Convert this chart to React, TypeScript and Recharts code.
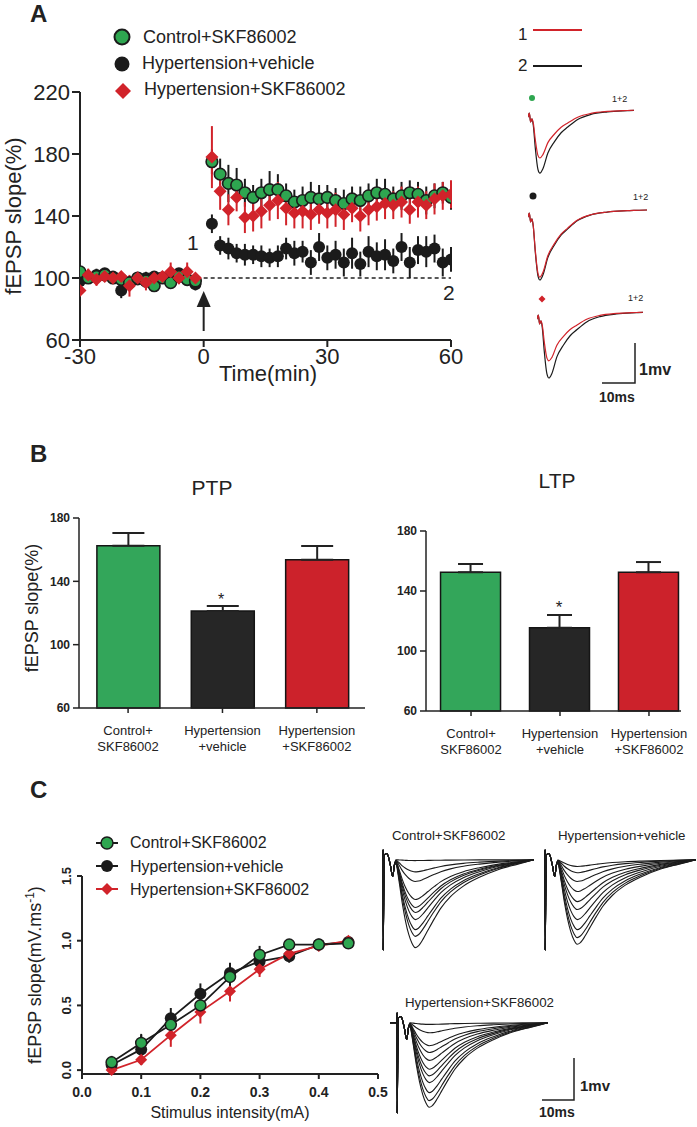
import React from 'react';
import {
  ScatterChart, Scatter, BarChart, Bar, Cell, LineChart, Line,
  XAxis, YAxis, ErrorBar, ReferenceLine, ReferenceDot,
} from 'recharts';

const FONT = '"Liberation Sans", Arial, Helvetica, sans-serif';
const INK = '#222222';
const DARK = '#1b1b1b';
const GREEN = '#2ea650';
const RED = '#d1232a';
const BAR_COLORS = ['#33a65a', '#262626', '#cc222b'];

// ---- A: fEPSP slope time course (% of baseline), time in min ----
const TIME_MIN = [
  -30, -28, -26, -24, -22, -20, -18, -16, -14, -12, -10, -8, -6, -4, -2,
  2, 4, 6, 8, 10, 12, 14, 16, 18, 20, 22, 24, 26, 28, 30,
  32, 34, 36, 38, 40, 42, 44, 46, 48, 50, 52, 54, 56, 58, 60,
];
const CTRL_SKF_SLOPE = [
  104, 100, 101, 102, 100, 99, 97, 100, 98, 95, 100, 97, 101, 99, 98,
  175, 167, 161, 160, 155, 152, 155, 157, 157, 153, 149, 150, 152, 151, 152,
  150, 148, 151, 150, 153, 155, 154, 151, 153, 155, 154, 150, 153, 155, 152,
];
const CTRL_SKF_SEM = [
  4, 3, 3, 4, 3, 3, 4, 3, 3, 4, 3, 3, 3, 4, 3,
  8, 10, 12, 11, 9, 8, 9, 12, 10, 8, 8, 9, 10, 9, 8,
  8, 9, 8, 9, 8, 9, 10, 8, 9, 8, 8, 9, 8, 7, 8,
];
const HYP_VEH_SLOPE = [
  98, 100, 102, 103, 101, 92, 97, 99, 100, 101, 100, 98, 103, 99, 96,
  135, 121, 119, 116, 115, 115, 114, 113, 114, 119, 116, 117, 110, 120, 113,
  115, 110, 116, 109, 117, 114, 115, 111, 120, 110, 118, 117, 119, 110, 112,
];
const HYP_VEH_SEM = [
  4, 3, 4, 3, 3, 5, 4, 3, 4, 3, 3, 4, 3, 3, 4,
  6, 6, 7, 6, 7, 6, 7, 6, 7, 7, 8, 7, 8, 9, 8,
  9, 9, 10, 8, 10, 9, 10, 8, 9, 10, 9, 10, 9, 9, 8,
];
const HYP_SKF_SLOPE = [
  92, 102, 99, 101, 100, 101, 95, 100, 97, 100, 101, 104, 100, 104, 100,
  178, 156, 144, 152, 139, 140, 143, 147, 150, 145, 142, 143, 141, 144, 142,
  144, 141, 145, 140, 144, 146, 148, 147, 149, 144, 149, 147, 151, 153, 154,
];
const HYP_SKF_SEM = [
  3, 4, 4, 3, 4, 3, 7, 4, 5, 4, 3, 6, 4, 6, 3,
  20, 12, 10, 9, 10, 10, 11, 10, 12, 11, 10, 11, 10, 9, 10,
  11, 10, 9, 10, 10, 9, 10, 9, 10, 9, 10, 9, 10, 9, 9,
];

// ---- A: sample traces (ms, mV) ----
const A_TRACE_T = [0, 0.4, 0.8, 1.2, 1.6, 2.2, 3.0, 3.6, 4.5, 6, 8, 10, 12, 15, 19, 24, 30, 32, 36];
const A_TRACE_SHAPE = [0, 0, 0, 0, -0.15, -0.55, -0.92, -1, -0.93, -0.68, -0.5, -0.36, -0.27, -0.15, -0.07, -0.03, -0.01, -0.005, 0];
const A_TRACE_VOLLEY = [-0.18, -0.08, -0.3, -0.22, -0.15, -0.08, -0.03, 0, 0, 0, 0, 0, 0, 0, 0, 0, 0, 0, 0];
const A_AMP_BEFORE = [1.58, 1.75, 1.65]; // trace 2 (black)
const A_AMP_AFTER = [1.2, 1.68, 1.22]; // trace 1 (red)

// ---- B: PTP / LTP bars ----
const GROUP_LABELS = [['Control+', 'SKF86002'], ['Hypertension', '+vehicle'], ['Hypertension', '+SKF86002']];
const PTP_MEAN = [162.5, 121.3, 153.7];
const PTP_SEM = [8, 3.2, 8.6];
const LTP_MEAN = [152.5, 115.5, 152.5];
const LTP_SEM = [5.5, 8.5, 6.8];

// ---- C: input-output curves ----
const STIM_MA = [0.05, 0.1, 0.15, 0.2, 0.25, 0.3, 0.35, 0.4, 0.45];
const CTRL_SKF_IO = [0.06, 0.21, 0.35, 0.5, 0.72, 0.89, 0.97, 0.97, 0.98];
const CTRL_SKF_IO_SEM = [0.05, 0.06, 0.07, 0.07, 0.08, 0.07, 0.04, 0.03, 0.03];
const HYP_VEH_IO = [0.04, 0.16, 0.4, 0.59, 0.75, 0.84, 0.88, 0.97, 0.99];
const HYP_VEH_IO_SEM = [0.05, 0.12, 0.08, 0.08, 0.08, 0.08, 0.05, 0.03, 0.03];
const HYP_SKF_IO = [0.0, 0.08, 0.27, 0.45, 0.61, 0.78, 0.9, 0.96, 1.0];
const HYP_SKF_IO_SEM = [0.03, 0.04, 0.09, 0.09, 0.08, 0.06, 0.04, 0.04, 0.03];

// ---- C: sample trace families ----
const C_TRACE_T = [-2.2, -0.3, 0, 0.03, 0.06, 0.3, 1.2, 2.2, 3, 3.6, 4, 5, 6, 7, 8, 9, 10, 11, 12.5, 14, 16, 18, 21, 25, 30, 36, 42, 47];
const C_TRACE_SHAPE = [0, 0, 0, 0, 0, 0, 0, 0, 0, 0, -0.05, -0.25, -0.5, -0.7, -0.85, -0.95, -1, -0.98, -0.9, -0.8, -0.67, -0.55, -0.42, -0.3, -0.2, -0.11, -0.05, 0];
const C_TRACE_FIXED = [0, 0, 0, 0.24, -2.15, 0.1, 0.15, -0.1, -0.4, -0.1, 0, 0, 0, 0, 0, 0, 0, 0, 0, 0, 0, 0, 0, 0, 0, 0, 0, 0];
const CTRL_AMPS = [0.02, 0.29, 0.52, 0.95, 1.14, 1.26, 1.43, 1.67, 1.83, 2.1];
const VEH_AMPS = [0.16, 0.31, 0.52, 0.76, 1.0, 1.19, 1.43, 1.67, 1.86, 2.02];
const SKF_AMPS = [0.04, 0.24, 0.55, 0.71, 0.9, 1.11, 1.27, 1.43, 1.67, 1.86, 2.02];

const seriesRows = (vals: number[], sems: number[]) =>
  TIME_MIN.map((t, i) => ({ t, v: vals[i], e: sems[i] }));

const diamond = (cx: number, cy: number, h: number) =>
  `${cx},${cy - h} ${cx + h},${cy} ${cx},${cy + h} ${cx - h},${cy}`;

const greenDot = (p: any) => <circle cx={p.cx} cy={p.cy} r={5.8} fill={GREEN} stroke={DARK} strokeWidth={1.6} />;
const blackDot = (p: any) => <circle cx={p.cx} cy={p.cy} r={6} fill={DARK} />;
const redDiamond = (p: any) => <polygon points={diamond(p.cx, p.cy, 6.5)} fill={RED} />;
const arrowHead = (p: any) => <polygon points={`${p.cx},${p.cy - 8} ${p.cx + 7},${p.cy + 8} ${p.cx - 7},${p.cy + 8}`} fill={INK} />;

function TimeCourse() {
  const axis = { stroke: INK, strokeWidth: 2 };
  const tick = { fill: INK, fontSize: 22, fontFamily: FONT };
  return (
    <div style={{ position: 'absolute', left: 0, top: 0 }}>
      <ScatterChart width={470} height={400} margin={{ top: 92, right: 19, bottom: 0, left: 0 }}>
        <XAxis type="number" dataKey="t" domain={[-30, 60]} ticks={[-30, 0, 30, 60]} height={60}
          axisLine={axis} tickLine={axis} tickSize={7} tickMargin={1} tick={tick} allowDataOverflow />
        <YAxis type="number" dataKey="v" domain={[60, 220]} ticks={[60, 100, 140, 180, 220]} width={80}
          axisLine={axis} tickLine={axis} tickSize={8} tickMargin={2} tick={tick} allowDataOverflow />
        <ReferenceLine segment={[{ x: 0, y: 100 }, { x: 60, y: 100 }]} stroke={INK} strokeWidth={1.5} strokeDasharray="4 3" />
        <ReferenceLine segment={[{ x: 0, y: 65.8 }, { x: 0, y: 82 }]} stroke={INK} strokeWidth={2} />
        <ReferenceDot x={0} y={86.5} r={0} shape={arrowHead} />
        <Scatter data={seriesRows(HYP_VEH_SLOPE, HYP_VEH_SEM)} dataKey="v" shape={blackDot} isAnimationActive={false}>
          <ErrorBar dataKey="e" direction="y" width={0} stroke={DARK} strokeWidth={2} />
        </Scatter>
        <Scatter data={seriesRows(CTRL_SKF_SLOPE, CTRL_SKF_SEM)} dataKey="v" shape={greenDot} isAnimationActive={false}>
          <ErrorBar dataKey="e" direction="y" width={0} stroke={DARK} strokeWidth={2} />
        </Scatter>
        <Scatter data={seriesRows(HYP_SKF_SLOPE, HYP_SKF_SEM)} dataKey="v" shape={redDiamond} isAnimationActive={false}>
          <ErrorBar dataKey="e" direction="y" width={0} stroke={RED} strokeWidth={2} />
        </Scatter>
      </ScatterChart>
    </div>
  );
}

function Traces(props: {
  left: number; top: number; width: number; height: number; rows: any[];
  keys: string[]; colors: string[]; xDomain: [number, number]; yDomain: [number, number]; sw?: number;
}) {
  const { left, top, width, height, rows, keys, colors, xDomain, yDomain, sw } = props;
  return (
    <div style={{ position: 'absolute', left, top }}>
      <LineChart width={width} height={height} data={rows} margin={{ top: 0, right: 0, bottom: 0, left: 0 }}>
        <XAxis type="number" dataKey="t" domain={xDomain} hide allowDataOverflow />
        <YAxis type="number" domain={yDomain} hide allowDataOverflow />
        {keys.map((k, i) => (
          <Line key={k} dataKey={k} stroke={colors[i]} strokeWidth={sw ?? 1.2} dot={false} type="monotone" isAnimationActive={false} />
        ))}
      </LineChart>
    </div>
  );
}

const aTraceRows = (k: number, tMax: number) =>
  A_TRACE_T.map((t, i) => ({
    t,
    before: A_AMP_BEFORE[k] * A_TRACE_SHAPE[i] + A_TRACE_VOLLEY[i],
    after: A_AMP_AFTER[k] * A_TRACE_SHAPE[i] + A_TRACE_VOLLEY[i],
  })).filter((r) => r.t <= tMax);

const cTraceRows = (amps: number[], tStart: number) =>
  C_TRACE_T.map((t, i) => {
    const row: any = { t };
    amps.forEach((a, k) => { row['s' + k] = a * C_TRACE_SHAPE[i] + C_TRACE_FIXED[i]; });
    return row;
  }).filter((r) => r.t >= tStart);

function GroupTick(p: any) {
  const lines = GROUP_LABELS[p.payload.value] || [];
  return (
    <g>
      {lines.map((l, k) => (
        <text key={k} x={p.x} y={p.y + 20 + k * 16} textAnchor="middle" fontSize={13} fill={INK} fontFamily={FONT}>{l}</text>
      ))}
    </g>
  );
}

function BarPanel(props: {
  left: number; top: number; width: number; height: number; mTop: number; mRight: number;
  yWidth: number; xHeight: number; xDomain: [number, number]; means: number[]; sems: number[];
  barSize: number; cap: number;
}) {
  const { left, top, width, height, mTop, mRight, yWidth, xHeight, xDomain, means, sems, barSize, cap } = props;
  const rows = means.map((v, i) => ({ g: i, v, err: [0, sems[i]] }));
  const axis = { stroke: INK, strokeWidth: 1.5 };
  return (
    <div style={{ position: 'absolute', left, top }}>
      <BarChart width={width} height={height} data={rows} margin={{ top: mTop, right: mRight, bottom: 0, left: 0 }}>
        <XAxis type="number" dataKey="g" domain={xDomain} ticks={[0, 1, 2]} height={xHeight} allowDataOverflow
          axisLine={axis} tickLine={axis} tickSize={5} tickMargin={2} tick={(p: any) => <GroupTick {...p} />} />
        <YAxis type="number" domain={[60, 180]} ticks={[60, 100, 140, 180]} width={yWidth}
          axisLine={axis} tickLine={axis} tickSize={6} tickMargin={3}
          tick={{ fill: INK, fontSize: 12, fontWeight: 700, fontFamily: FONT }} />
        <Bar dataKey="v" barSize={barSize} stroke="#151515" strokeWidth={1.5} isAnimationActive={false}>
          {rows.map((r, i) => <Cell key={i} fill={BAR_COLORS[i]} />)}
          <ErrorBar dataKey="err" direction="y" width={cap} stroke={INK} strokeWidth={2} />
        </Bar>
      </BarChart>
    </div>
  );
}

function RotTick(p: any) {
  const bx = p.x - 4;
  return (
    <text x={bx} y={p.y} transform={`rotate(-90 ${bx} ${p.y})`} textAnchor="middle" fontSize={13}
      fontWeight={700} fill={INK} fontFamily={FONT}>{Number(p.payload.value).toFixed(1)}</text>
  );
}

function InputOutput() {
  const rows = STIM_MA.map((s, i) => ({
    s, ctrl: CTRL_SKF_IO[i], ctrlE: CTRL_SKF_IO_SEM[i], veh: HYP_VEH_IO[i], vehE: HYP_VEH_IO_SEM[i],
    skf: HYP_SKF_IO[i], skfE: HYP_SKF_IO_SEM[i],
  }));
  const axis = { stroke: INK, strokeWidth: 2 };
  return (
    <div style={{ position: 'absolute', left: 0, top: 820 }}>
      <LineChart width={400} height={307} data={rows} margin={{ top: 56, right: 22, bottom: 0, left: 0 }}>
        <XAxis type="number" dataKey="s" domain={[0, 0.5]} ticks={[0, 0.1, 0.2, 0.3, 0.4, 0.5]} height={53}
          tickFormatter={(v: number) => v.toFixed(1)} axisLine={axis} tickLine={axis} tickSize={5} tickMargin={8}
          tick={{ fill: INK, fontSize: 14, fontWeight: 700, fontFamily: FONT }} />
        <YAxis type="number" domain={[0, 1.5]} ticks={[0, 0.5, 1, 1.5]} width={82}
          axisLine={axis} tickLine={axis} tickSize={5} tickMargin={2} tick={(p: any) => <RotTick {...p} />} />
        <Line dataKey="veh" stroke={DARK} strokeWidth={1.8} isAnimationActive={false}
          dot={(p: any) => <circle key={'v' + p.index} cx={p.cx} cy={p.cy} r={6} fill={DARK} />}>
          <ErrorBar dataKey="vehE" direction="y" width={0} stroke={DARK} strokeWidth={2} />
        </Line>
        <Line dataKey="skf" stroke={RED} strokeWidth={1.8} isAnimationActive={false}
          dot={(p: any) => <polygon key={'r' + p.index} points={diamond(p.cx, p.cy, 6)} fill={RED} />}>
          <ErrorBar dataKey="skfE" direction="y" width={0} stroke={RED} strokeWidth={2} />
        </Line>
        <Line dataKey="ctrl" stroke={DARK} strokeWidth={1.8} isAnimationActive={false}
          dot={(p: any) => <circle key={'g' + p.index} cx={p.cx} cy={p.cy} r={5.5} fill={GREEN} stroke={DARK} strokeWidth={1.5} />}>
          <ErrorBar dataKey="ctrlE" direction="y" width={0} stroke={DARK} strokeWidth={2} />
        </Line>
      </LineChart>
    </div>
  );
}

function Overlay() {
  const t = { fontFamily: FONT, fill: INK };
  const panel = { ...t, fontSize: 24, fontWeight: 700 };
  return (
    <svg width={697} height={1127} style={{ position: 'absolute', left: 0, top: 0, pointerEvents: 'none' }}>
      <text x={30} y={22} {...panel}>A</text>
      <text x={30} y={462} {...panel}>B</text>
      <text x={30} y={798} {...panel}>C</text>

      {/* A legend */}
      <circle cx={122} cy={37} r={7.5} fill={GREEN} stroke={DARK} strokeWidth={2} />
      <text x={143} y={43} fontSize={18} {...t}>Control+SKF86002</text>
      <circle cx={122} cy={64} r={7.5} fill={DARK} />
      <text x={142} y={69} fontSize={18} {...t}>Hypertension+vehicle</text>
      <polygon points={diamond(123, 91, 8)} fill={RED} />
      <text x={144} y={95} fontSize={18} {...t}>Hypertension+SKF86002</text>

      <text x={187} y={250} fontSize={21} {...t}>1</text>
      <text x={443} y={300} fontSize={21} {...t}>2</text>
      <text x={21} y={216} transform="rotate(-90 21 216)" textAnchor="middle" fontSize={22} {...t}>fEPSP slope(%)</text>
      <text x={268} y={381} textAnchor="middle" fontSize={22} {...t}>Time(min)</text>

      {/* A trace key */}
      <text x={518} y={40} fontSize={17} {...t}>1</text>
      <line x1={533} x2={582} y1={30} y2={30} stroke={RED} strokeWidth={2} />
      <text x={518} y={71} fontSize={17} {...t}>2</text>
      <line x1={533} x2={582} y1={66} y2={66} stroke={DARK} strokeWidth={2} />
      <circle cx={532} cy={98} r={3} fill={GREEN} />
      <text x={612} y={102} fontSize={9} {...t}>1+2</text>
      <circle cx={533} cy={196} r={3.5} fill={DARK} />
      <text x={633} y={200} fontSize={9} {...t}>1+2</text>
      <polygon points={diamond(542, 299, 3.5)} fill={RED} />
      <text x={628} y={301} fontSize={9} {...t}>1+2</text>
      <polyline points="635,343 635,383 602,383" fill="none" stroke={INK} strokeWidth={1.5} />
      <text x={639} y={375} fontSize={16} fontWeight={700} {...t}>1mv</text>
      <text x={599} y={402} fontSize={14} fontWeight={700} {...t}>10ms</text>

      {/* B */}
      <text x={212} y={495} textAnchor="middle" fontSize={21} {...t}>PTP</text>
      <text x={557} y={488} textAnchor="middle" fontSize={21} {...t}>LTP</text>
      <text x={38} y={608} transform="rotate(-90 38 608)" textAnchor="middle" fontSize={18} {...t}>fEPSP slope(%)</text>
      <text x={221} y={605} textAnchor="middle" fontSize={16} {...t}>*</text>
      <text x={559} y={613} textAnchor="middle" fontSize={17} {...t}>*</text>

      {/* C legend */}
      <line x1={96} x2={118} y1={843} y2={843} stroke={DARK} strokeWidth={2} />
      <circle cx={107} cy={843} r={6} fill={GREEN} stroke={DARK} strokeWidth={1.5} />
      <text x={130} y={848} fontSize={16} {...t}>Control+SKF86002</text>
      <line x1={96} x2={118} y1={866} y2={866} stroke={DARK} strokeWidth={2} />
      <circle cx={107} cy={866} r={6} fill={DARK} />
      <text x={130} y={872} fontSize={16} {...t}>Hypertension+vehicle</text>
      <line x1={96} x2={118} y1={889} y2={889} stroke={RED} strokeWidth={2} />
      <polygon points={diamond(107, 889, 6)} fill={RED} />
      <text x={130} y={895} fontSize={16} {...t}>Hypertension+SKF86002</text>

      <text x={41} y={975} transform="rotate(-90 41 975)" textAnchor="middle" fontSize={18} {...t}>
        fEPSP slope(mV.ms<tspan dy={-7} fontSize={12}>-1</tspan><tspan dy={7}>)</tspan>
      </text>
      <text x={230} y={1118} textAnchor="middle" fontSize={16} {...t}>Stimulus intensity(mA)</text>

      {/* C trace titles and scale */}
      <text x={392} y={840} fontSize={13.3} {...t}>Control+SKF86002</text>
      <text x={558} y={840} fontSize={13.3} {...t}>Hypertension+vehicle</text>
      <text x={405} y={1007} fontSize={13.3} {...t}>Hypertension+SKF86002</text>
      <polyline points="574,1058 574,1100 542,1100" fill="none" stroke={INK} strokeWidth={1.5} />
      <text x={580} y={1091} fontSize={15} fontWeight={700} {...t}>1mv</text>
      <text x={539} y={1117} fontSize={14} fontWeight={700} {...t}>10ms</text>
    </svg>
  );
}

export default function App() {
  const ctrlKeys = CTRL_AMPS.map((_, k) => 's' + k);
  const vehKeys = VEH_AMPS.map((_, k) => 's' + k);
  const skfKeys = SKF_AMPS.map((_, k) => 's' + k);
  return (
    <div style={{ position: 'absolute', left: 0, top: 0, width: 697, height: 1127, background: '#fff', fontFamily: FONT }}>
      <TimeCourse />
      <Traces left={528} top={98} width={106} height={88} rows={aTraceRows(0, 32)} keys={['before', 'after']}
        colors={[DARK, RED]} xDomain={[0, 32]} yDomain={[-1.9, 0.3]} />
      <Traces left={528} top={198} width={119} height={88} rows={aTraceRows(1, 36)} keys={['before', 'after']}
        colors={[DARK, RED]} xDomain={[0, 36]} yDomain={[-1.9, 0.3]} />
      <Traces left={537} top={300} width={106} height={88} rows={aTraceRows(2, 32)} keys={['before', 'after']}
        colors={[DARK, RED]} xDomain={[0, 32]} yDomain={[-1.9, 0.3]} />

      <BarPanel left={0} top={440} width={380} height={320} mTop={78} mRight={15} yWidth={79} xHeight={52}
        xDomain={[-0.52, 2.51]} means={PTP_MEAN} sems={PTP_SEM} barSize={63} cap={16} />
      <BarPanel left={380} top={440} width={317} height={320} mTop={91} mRight={16} yWidth={46} xHeight={49}
        xDomain={[-0.506, 2.36]} means={LTP_MEAN} sems={LTP_SEM} barSize={60} cap={12.5} />

      <InputOutput />
      <Traces left={376} top={843} width={158} height={113} rows={cTraceRows(CTRL_AMPS, -0.4)} keys={ctrlKeys}
        colors={ctrlKeys.map(() => DARK)} xDomain={[-2.2, 47]} yDomain={[-2.3, 0.4]} sw={1.1} />
      <Traces left={538} top={843} width={158} height={113} rows={cTraceRows(VEH_AMPS, -0.9)} keys={vehKeys}
        colors={vehKeys.map(() => DARK)} xDomain={[-2.2, 47]} yDomain={[-2.3, 0.4]} sw={1.1} />
      <Traces left={390} top={1006} width={158} height={113} rows={cTraceRows(SKF_AMPS, -2.2)} keys={skfKeys}
        colors={skfKeys.map(() => DARK)} xDomain={[-2.2, 47]} yDomain={[-2.3, 0.4]} sw={1.1} />

      <Overlay />
    </div>
  );
}
